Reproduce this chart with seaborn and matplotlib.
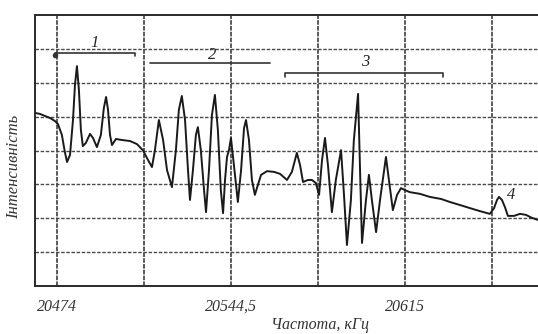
import matplotlib
matplotlib.use("Agg")
import matplotlib.pyplot as plt
import numpy as np
import pandas as pd
import seaborn as sns

# frequency (kHz) and intensity (grid units)
freq = [
    20465.1, 20467.1, 20471.2, 20473.2, 20474.4, 20476.0, 20477.2, 20478.1, 20479.3, 20480.5,
    20481.3, 20482.1, 20482.9, 20483.7, 20484.5, 20485.7, 20487.4, 20488.6, 20490.2, 20491.8,
    20493.0, 20493.9, 20494.7, 20495.5, 20496.3, 20497.9, 20500.3, 20503.6, 20506.4, 20508.8,
    20510.9, 20512.5, 20513.7, 20515.3, 20517.0, 20518.6, 20520.6, 20522.2, 20523.4, 20524.6,
    20525.9, 20527.1, 20527.9, 20529.1, 20530.3, 20531.1, 20532.3, 20533.6, 20534.4, 20535.6,
    20536.8, 20538.0, 20539.2, 20540.4, 20541.3, 20542.1, 20542.9, 20543.7, 20544.5, 20545.7,
    20547.3, 20548.6, 20549.8, 20550.6, 20551.8, 20553.0, 20554.2, 20555.4, 20556.7, 20559.1,
    20561.9, 20564.4, 20567.2, 20569.2, 20571.2, 20572.5, 20573.7, 20575.7, 20577.3, 20578.9,
    20580.2, 20581.4, 20582.6, 20583.8, 20585.4, 20587.0, 20589.1, 20590.3, 20591.5, 20593.1,
    20594.3, 20596.0, 20596.8, 20597.6, 20599.2, 20600.4, 20601.6, 20603.3, 20604.9, 20607.3,
    20608.5, 20610.1, 20611.8, 20613.4, 20615.0, 20617.0, 20621.1, 20625.1, 20629.6, 20633.2,
    20637.3, 20641.3, 20645.4, 20649.4, 20651.1, 20652.3, 20653.1, 20654.3, 20655.5, 20656.7,
    20659.2, 20661.6, 20664.0, 20666.5, 20668.9,
]
intensity = [
    5.11, 5.08, 4.96, 4.87, 4.78, 4.46, 3.96, 3.66, 3.87, 4.90,
    5.93, 6.49, 5.79, 4.61, 4.13, 4.22, 4.49, 4.37, 4.10, 4.46,
    5.25, 5.58, 5.20, 4.46, 4.16, 4.34, 4.31, 4.28, 4.19, 4.01,
    3.72, 3.51, 4.01, 4.90, 4.31, 3.42, 2.92, 4.01, 5.20, 5.61,
    4.90, 3.42, 2.54, 3.42, 4.46, 4.69, 4.01, 2.83, 2.18, 3.42,
    5.05, 5.64, 4.61, 2.83, 2.15, 3.13, 3.81, 4.01, 4.37, 3.57,
    2.48, 3.42, 4.66, 4.90, 4.31, 3.13, 2.69, 2.98, 3.28, 3.39,
    3.37, 3.31, 3.13, 3.37, 3.93, 3.57, 3.07, 3.13, 3.13, 3.04,
    2.69, 3.72, 4.37, 3.57, 2.18, 3.13, 4.01, 2.69, 1.21, 2.54,
    4.31, 5.67, 3.42, 1.27, 2.54, 3.28, 2.54, 1.59, 2.54, 3.81,
    3.13, 2.24, 2.69, 2.89, 2.83, 2.77, 2.72, 2.63, 2.57, 2.48,
    2.39, 2.30, 2.21, 2.13, 2.30, 2.54, 2.63, 2.54, 2.33, 2.07,
    2.07, 2.13, 2.10, 2.01, 1.95,
]

grid_freqs = [20474, 20509.25, 20544.5, 20579.75, 20615, 20650.25]
tick_labels = ["20474", "", "20544,5", "", "20615", ""]

# interval brackets over the spectrum
bracket_start = [20473.2, 20511.7, 20566.4]
bracket_end = [20505.6, 20560.3, 20630.4]
bracket_y = [6.88, 6.58, 6.29]
bracket_left_tick = [0.0, 0.0, 0.13]
bracket_right_tick = [0.1, 0.0, 0.13]
bracket_names = ["1", "2", "3"]
bracket_label_x = [20489.4, 20536.8, 20598.8]
bracket_label_y = [7.17, 6.82, 6.61]
peak4_x, peak4_y = 20658.0, 2.69

sns.set_style("white")
plt.rcParams["font.family"] = ["Liberation Serif", "DejaVu Serif"]

df = pd.DataFrame({"freq": freq, "intensity": intensity})

fig = plt.figure(figsize=(5.38, 3.34), dpi=100)
ax = fig.add_axes([0.065, 0.1437, 0.935, 0.8114])

sns.lineplot(data=df, x="freq", y="intensity", ax=ax, color="#1a1a1a", linewidth=1.4, sort=False)

ax.set_xlim(20465.1, 20668.9)
ax.set_ylim(0, 8)
ax.set_xticks(grid_freqs)
ax.set_xticklabels(tick_labels, fontsize=11.5, style="italic", color="#333333")
ax.set_yticks(range(1, 8))
ax.set_yticklabels([])
ax.tick_params(axis="both", length=0, pad=9)
ax.xaxis.grid(True, color="#2e2e2e", linestyle=(0, (3, 0.8)), linewidth=1.1)
ax.yaxis.grid(True, color="#4a4a4a", linestyle=(0, (2.5, 1.2)), linewidth=1.0)
ax.set_xlabel("")
ax.set_ylabel("")
for side in ["left", "top", "bottom"]:
    ax.spines[side].set_color("#2a2a2a")
    ax.spines[side].set_linewidth(1.4)
    ax.spines[side].set_linestyle((0, (3, 1)))
ax.spines["right"].set_visible(False)

for x0, x1, y, tl, tr, name, lx, ly in zip(bracket_start, bracket_end, bracket_y,
                                           bracket_left_tick, bracket_right_tick, bracket_names,
                                           bracket_label_x, bracket_label_y):
    ax.plot([x0, x0, x1, x1], [y - tl, y, y, y - tr], color="#333333", linewidth=1.2)
    ax.text(lx, ly, name, fontsize=12, style="italic", ha="center", va="center", color="#222222")
ax.plot(bracket_start[0], bracket_y[0] - 0.05, marker="o", markersize=3, color="#333333")
ax.text(peak4_x, peak4_y, "4", fontsize=12, style="italic", ha="center", va="center", color="#222222")

fig.text(14 / 538, 1 - 167 / 334, "Інтенсивність", rotation=90, fontsize=12, style="italic",
         ha="center", va="center", color="#333333")
fig.text(320 / 538, 1 - 325 / 334, "Частота, кГц", fontsize=11.5, style="italic",
         ha="center", va="center", color="#333333")

fig.savefig("out.png", dpi=100)
